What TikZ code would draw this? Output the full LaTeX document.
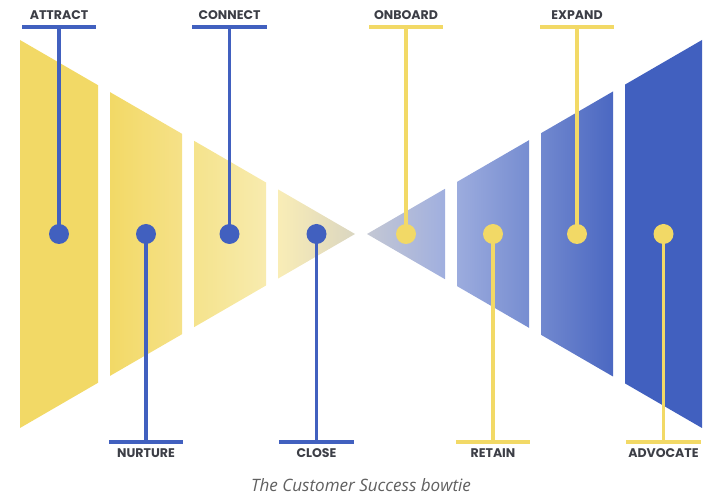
\documentclass[tikz,border=0pt]{standalone}
\usepackage{fontspec}
\usepackage[HTML]{xcolor}
\usepackage{tikz}
\usetikzlibrary{positioning, calc}
\newfontfamily\lblfont{Poppins}
\newfontfamily\capfont{Open Sans}
\definecolor{bowyellow}{HTML}{F2D966}
\definecolor{bowblue}{HTML}{4160BF}
\definecolor{lbltext}{HTML}{3C3E46}
\definecolor{captext}{HTML}{606060}

\begin{document}
\begin{tikzpicture}[x=0.75pt, y=-0.75pt,
  dot/.style={circle, inner sep=0pt, minimum size=15pt},
  bar/.style={rectangle, inner sep=0pt, minimum height=3pt, minimum width=56pt},
  stem/.style={line width=2.6pt},
  lbl/.style={font=\lblfont\bfseries\fontsize{9.4}{11}\selectfont, text=lbltext, inner sep=0pt}]
\useasboundingbox (0,0) rectangle (719,502);
% left half of the bowtie
\fill[bowyellow] (20,40) -- (98,85.2) -- (98,382.8) -- (20,428) -- cycle;
\shade[left color=bowyellow, right color=bowyellow!78!white] (110,92.1) -- (182,133.8) -- (182,334.2) -- (110,375.9) -- cycle;
\shade[left color=bowyellow!75!white, right color=bowyellow!52!white] (194,140.8) -- (266,182.5) -- (266,285.5) -- (194,327.2) -- cycle;
\shade[left color=bowyellow!48!white, right color=bowyellow!40!gray!45!white] (278,189.4) -- (355,234) -- (278,278.6) -- cycle;
% right half of the bowtie
\shade[left color=bowblue!30!gray!40!white, right color=bowblue!50!white] (367,234) -- (445,188.8) -- (445,279.2) -- cycle;
\shade[left color=bowblue!52!white, right color=bowblue!72!white] (457,181.9) -- (529,140.2) -- (529,327.8) -- (457,286.1) -- cycle;
\shade[left color=bowblue!75!white, right color=bowblue!95!white] (541,133.2) -- (613,91.5) -- (613,376.5) -- (541,334.8) -- cycle;
\fill[bowblue] (625,84.6) -- (702,40) -- (702,428) -- (625,383.4) -- cycle;
% markers
\foreach \name/\x/\y/\c in {attract/59/27/bowblue, connect/229.5/27/bowblue,
    onboard/406/27/bowyellow, expand/577/27/bowyellow,
    nurture/146/442/bowblue, close/316.5/442/bowblue,
    retain/493/442/bowyellow, advocate/663.5/442/bowyellow}{
  \node[bar, fill=\c] (\name-bar) at (\x,\y) {};
  \node[dot, fill=\c] (\name-dot) at (\x,234) {};
  \draw[stem, \c] (\name-dot.center) -- (\name-bar.center);
}
\node[lbl] (attract) at (59,15) {ATTRACT};
\node[lbl] (connect) at (229.5,15) {CONNECT};
\node[lbl] (onboard) at (406,15) {ONBOARD};
\node[lbl] (expand) at (577,15) {EXPAND};
\node[lbl] (nurture) at (146,453) {NURTURE};
\node[lbl] (close) at (316.5,453) {CLOSE};
\node[lbl] (retain) at (493,453) {RETAIN};
\node[lbl] (advocate) at (663.5,453) {ADVOCATE};
\node[font=\capfont\itshape\fontsize{12.8}{15}\selectfont, text=captext] (caption) at (361,485) {The Customer Success bowtie};
\end{tikzpicture}
\end{document}
